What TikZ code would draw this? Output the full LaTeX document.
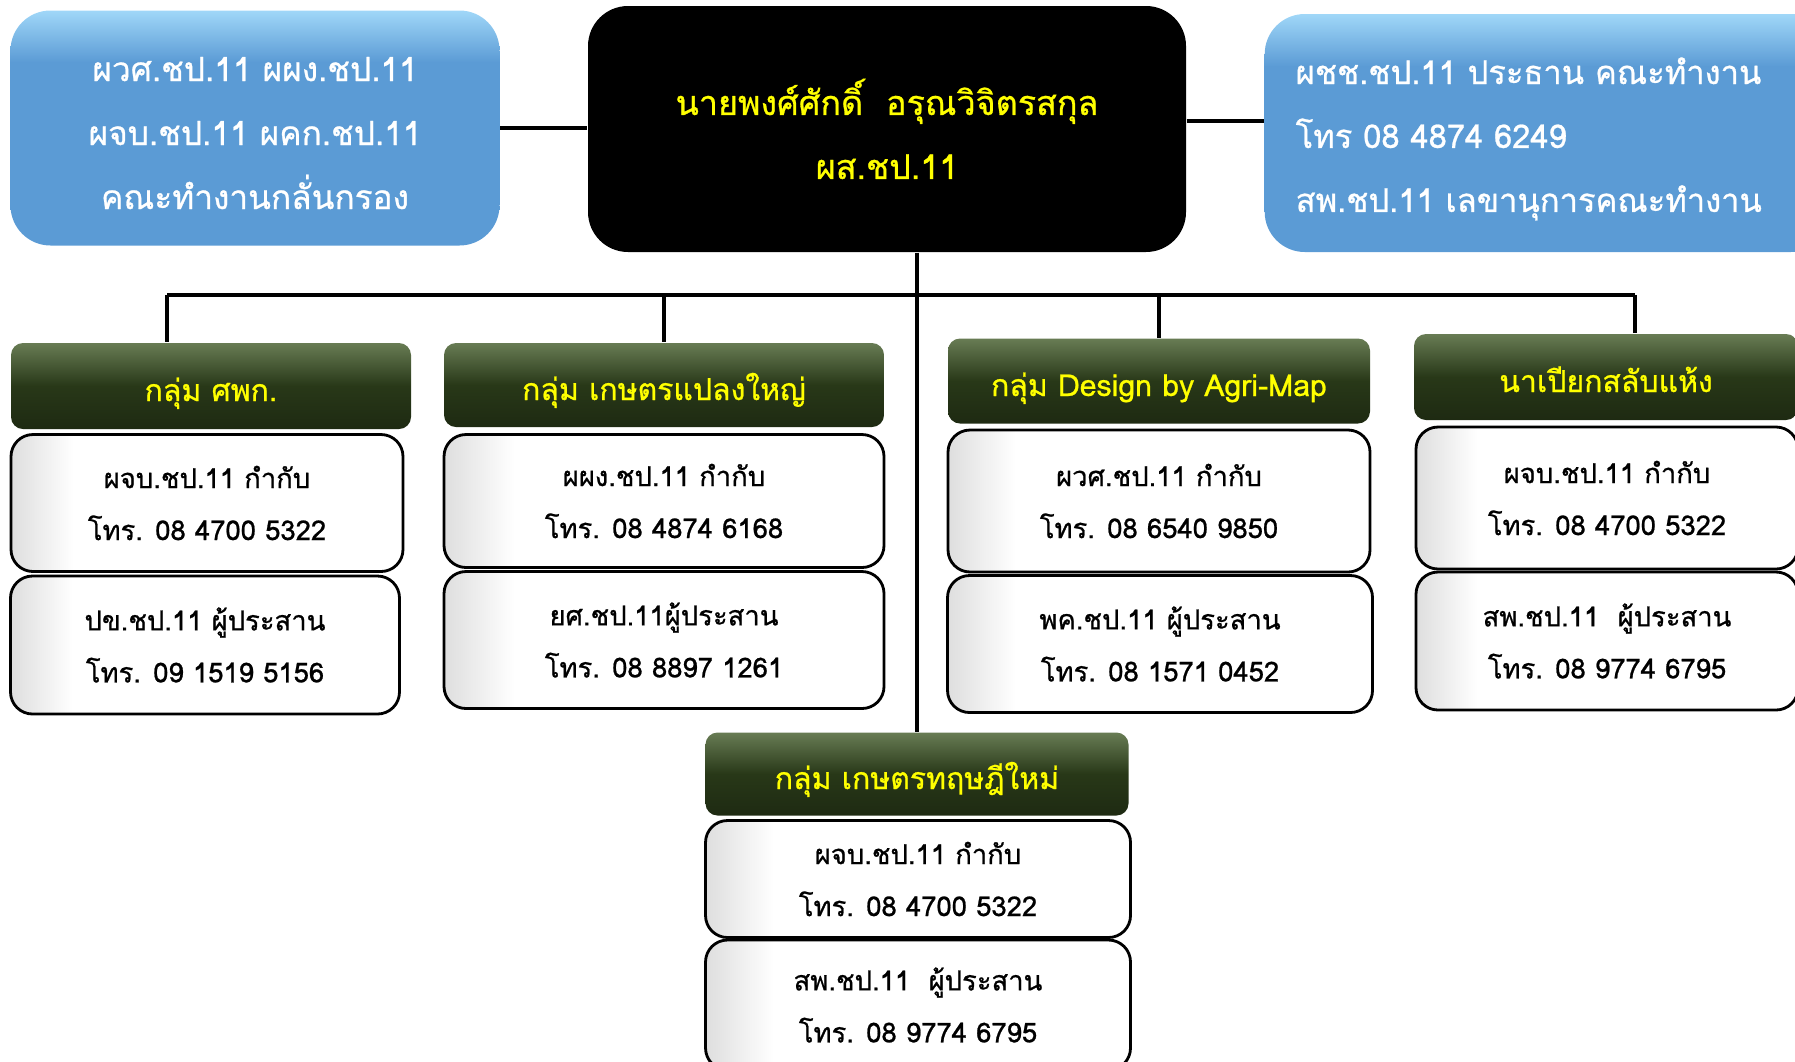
\documentclass[tikz,border=0pt]{standalone}
\usepackage{fontspec}
\setmainfont{Loma}[Script=Thai,FakeBold=0.8]
\usetikzlibrary{calc}
\definecolor{skyTop}{RGB}{160,215,248}
\definecolor{skyMain}{RGB}{91,155,213}
\definecolor{leafTop}{RGB}{104,124,84}
\definecolor{leafMain}{RGB}{40,56,24}
\definecolor{leafLow}{RGB}{30,42,18}
\definecolor{headText}{RGB}{255,255,0}
\pgfdeclareverticalshading{skyshade}{100bp}{color(0bp)=(skyMain); color(64bp)=(skyMain); color(75bp)=(skyTop); color(100bp)=(skyTop)}
\pgfdeclarehorizontalshading{cardshade}{100bp}{color(0bp)=(black!13); color(25bp)=(black!13); color(33bp)=(white); color(100bp)=(white)}

\begin{document}
\begin{tikzpicture}[x=0.1mm,y=-0.1mm,
  topbox/.style={rounded corners=4mm,shading=skyshade,text=white,inner sep=0pt,align=center,
    text height=16.2mm,text depth=0mm,font=\fontsize{9.5}{18.2}\selectfont},
  chiefbox/.style={rounded corners=4mm,fill=black,text=headText,inner sep=0pt,align=center,
    font=\fontsize{9.7}{18.2}\selectfont},
  grouphead/.style={rounded corners=1.2mm,top color=leafTop,bottom color=leafLow,middle color=leafMain,
    text=headText,inner sep=0pt,text height=3.5mm,text depth=0.5mm,font=\fontsize{8.6}{11}\selectfont},
  card/.style={draw=black,line width=0.8pt,rounded corners=2.2mm,shading=cardshade,
    inner sep=0pt,align=center,font=\fontsize{7.8}{14.8}\selectfont},
  link/.style={line width=1.4pt}]
  \clip (0,0) rectangle (1795,1061);

  % top row
  \node[topbox,minimum width=48.9mm,minimum height=23.5mm] (panel) at (255,128)
    {ผวศ.ชป.11 ผผง.ชป.11\\ผจบ.ชป.11 ผคก.ชป.11\\คณะทำงานกลั่นกรอง};
  \node[chiefbox,minimum width=59.8mm,minimum height=24.6mm] (chief) at (887,129)
    {นายพงศ์ศักดิ์\ \ อรุณวิจิตรสกุล\\ผส.ชป.11};
  \node[topbox,anchor=west,minimum width=56.6mm,minimum height=23.8mm,text width=50.4mm,
    align=left,inner xsep=3.1mm,text height=3mm,text depth=12.8mm,
    font=\fontsize{9.3}{18.2}\selectfont] (staff) at (1264,133)
    {ผชช.ชป.11 ประธาน คณะทำงาน\\โทร 08 4874 6249\\สพ.ชป.11 เลขานุการคณะทำงาน};

  % groups
  \node[grouphead,minimum width=40mm,minimum height=8.6mm] (g1) at (211,386) {กลุ่ม ศพก.};
  \node[card,minimum width=39.2mm,minimum height=13.7mm] (g1a) at (207,503) {ผจบ.ชป.11 กำกับ\\โทร. 08 4700 5322};
  \node[card,minimum width=38.9mm,minimum height=13.8mm] (g1b) at (205,645) {ปข.ชป.11 ผู้ประสาน\\โทร. 09 1519 5156};

  \node[grouphead,minimum width=44mm,minimum height=8.4mm] (g2) at (664,385) {กลุ่ม เกษตรแปลงใหญ่};
  \node[card,minimum width=44mm,minimum height=13.3mm] (g2a) at (664,501) {ผผง.ชป.11 กำกับ\\โทร. 08 4874 6168};
  \node[card,minimum width=44mm,minimum height=13.7mm] (g2b) at (664,640) {ยศ.ชป.11ผู้ประสาน\\โทร. 08 8897 1261};

  \node[grouphead,minimum width=42.2mm,minimum height=8.5mm] (g3) at (1159,381) {กลุ่ม Design by Agri-Map};
  \node[card,minimum width=42.2mm,minimum height=14.2mm] (g3a) at (1159,501) {ผวศ.ชป.11 กำกับ\\โทร. 08 6540 9850};
  \node[card,minimum width=42.5mm,minimum height=13.7mm] (g3b) at (1160,644) {พค.ชป.11 ผู้ประสาน\\โทร. 08 1571 0452};

  \node[grouphead,minimum width=38.4mm,minimum height=8.6mm] (g4) at (1606,377) {นาเปียกสลับแห้ง};
  \node[card,minimum width=38.2mm,minimum height=14.2mm] (g4a) at (1607,498) {ผจบ.ชป.11 กำกับ\\โทร. 08 4700 5322};
  \node[card,minimum width=38.2mm,minimum height=13.8mm] (g4b) at (1607,641) {สพ.ชป.11\ \ ผู้ประสาน\\โทร. 08 9774 6795};

  \node[grouphead,minimum width=42.3mm,minimum height=8.3mm] (g5) at (917,774) {กลุ่ม เกษตรทฤษฎีใหม่};
  \node[card,minimum width=42.5mm,minimum height=11.7mm] (g5a) at (918,879) {ผจบ.ชป.11 กำกับ\\โทร. 08 4700 5322};
  \node[card,minimum width=42.5mm,minimum height=13mm] (g5b) at (918,1005) {สพ.ชป.11\ \ ผู้ประสาน\\โทร. 08 9774 6795};

  % connectors
  \draw[link] (panel.east) -- (panel.east -| chief.west);
  \draw[link] ([yshift=0.8mm]chief.east) -- ([yshift=0.8mm]chief.east -| staff.west);
  \draw[link] (chief.south -| g5.north) -- (g5.north);
  \coordinate (j1) at (167,295);
  \coordinate (j2) at (664,295);
  \coordinate (j3) at (1159,295);
  \coordinate (j4) at (1635,295);
  \draw[link] (j1) -- (j4);
  \draw[link] (j1) -- (j1 |- g1.north);
  \draw[link] (j2) -- (j2 |- g2.north);
  \draw[link] (j3) -- (j3 |- g3.north);
  \draw[link] (j4) -- (j4 |- g4.north);
\end{tikzpicture}
\end{document}
